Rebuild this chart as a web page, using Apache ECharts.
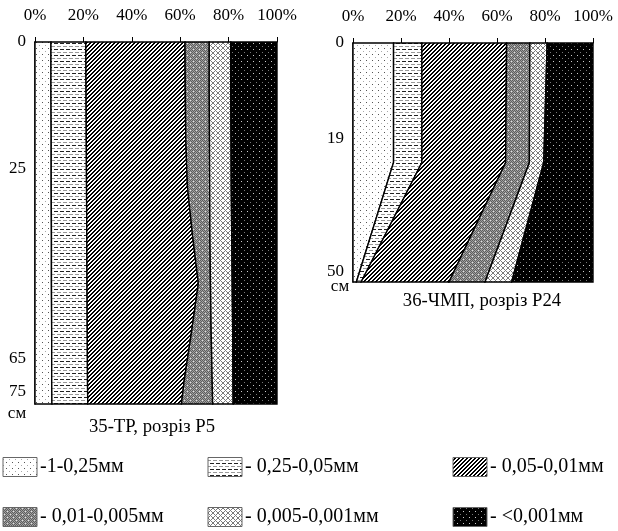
<!DOCTYPE html>
<html><head><meta charset="utf-8">
<script src="https://cdn.jsdelivr.net/npm/echarts@6/dist/echarts.min.js"></script>
<style>html,body{margin:0;padding:0;background:#fff}#c{width:618px;height:531px}</style>
</head><body><div id="c"></div>
<script>
// ---------- DATA ----------
const fractionNames = ['-1-0,25мм', '- 0,25-0,05мм', '- 0,05-0,01мм', '- 0,01-0,005мм', '- 0,005-0,001мм', '- <0,001мм'];
const percentTicks = [0, 20, 40, 60, 80, 100];

// Profile 35-ТР, P5 (percent of each fraction at depth, cm)
const p5Title = '35-ТР, розріз Р5';
const p5Depths = [0, 10, 20, 30, 40, 50, 60, 70, 75];
const p5DepthLabels = [0, 25, 65, 75];
const p5Frac1 = [6.6, 6.6, 6.7, 6.7, 6.8, 6.8, 6.9, 6.9, 7.0];
const p5Frac2 = [14.4, 14.5, 14.5, 14.6, 14.6, 14.7, 14.7, 14.8, 14.8];
const p5Frac3 = [41.0, 41.0, 41.1, 41.7, 43.7, 46.0, 43.1, 40.0, 38.7];
const p5Frac4 = [10.0, 9.9, 9.8, 9.2, 7.2, 5.0, 8.1, 11.5, 12.9];
const p5Frac5 = [8.9, 8.9, 8.9, 8.9, 9.0, 9.0, 8.9, 8.6, 8.5];
const p5Frac6 = [19.1, 19.1, 19.0, 18.9, 18.7, 18.5, 18.3, 18.2, 18.1];

// Profile 36-ЧМП, P24
const p24Title = '36-ЧМП, розріз Р24';
const p24Depths = [0, 25, 50];
const p24DepthLabels = [0, 19, 50];
const p24Frac1 = [16.9, 16.9, 1.4];
const p24Frac2 = [11.8, 11.8, 2.0];
const p24Frac3 = [35.3, 34.9, 36.6];
const p24Frac4 = [9.7, 9.9, 15.0];
const p24Frac5 = [7.2, 6.0, 11.1];
const p24Frac6 = [19.1, 20.5, 33.9];

const depthUnit = 'см';

// ---------- PATTERNS ----------
function makePattern(size, pix, bg) {
  const cv = document.createElement('canvas');
  cv.width = size; cv.height = size;
  const ctx = cv.getContext('2d');
  ctx.fillStyle = bg; ctx.fillRect(0, 0, size, size);
  for (let y = 0; y < size; y++) for (let x = 0; x < size; x++) {
    const c = pix(x, y);
    if (c) { ctx.fillStyle = c; ctx.fillRect(x, y, 1, 1); }
  }
  return { image: cv, repeat: 'repeat' };
}
const patterns = [
  makePattern(6, (x, y) => (x === 0 && y === 0) ? '#555' : (x === 3 && y === 3) ? '#aaa' : null, '#fff'),
  makePattern(6, (x, y) => (y === 1 && x < 4) ? '#222' : (y === 4 && (x >= 3 || x < 1)) ? '#999' : null, '#fff'),
  makePattern(4, (x, y) => ((x + y) % 4 < 2) ? '#000' : null, '#fff'),
  makePattern(6, (x, y) => (x === 1 && y === 1) || (x === 4 && y === 4) ? '#e0e0e0' : ((x + y) % 2 === 0 ? '#5e5e5e' : '#a0a0a0'), '#808080'),
  makePattern(5, (x, y) => ((x + y) % 5 === 0 || (x - y + 5) % 5 === 0) ? '#7a7a7a' : null, '#fff'),
  makePattern(6, (x, y) => (x === 1 && y === 1) ? '#ccc' : (x === 4 && y === 4) ? '#777' : null, '#000')
];

// ---------- BUILD ----------
function cumulate(fracs) {
  const out = [];
  let prev = fracs[0].map(() => 0);
  out.push(prev);
  fracs.forEach(f => { const cur = f.map((v, i) => prev[i] + v); out.push(cur); prev = cur; });
  return out;
}
const profiles = [
  { depths: p5Depths, fracs: [p5Frac1, p5Frac2, p5Frac3, p5Frac4, p5Frac5, p5Frac6] },
  { depths: p24Depths, fracs: [p24Frac1, p24Frac2, p24Frac3, p24Frac4, p24Frac5, p24Frac6] }
];
const series = [];
profiles.forEach((pr, gi) => {
  const cum = cumulate(pr.fracs);
  for (let k = 0; k < 6; k++) {
    const lower = cum[k], upper = cum[k + 1], depths = pr.depths;
    series.push({
      type: 'custom', name: fractionNames[k],
      xAxisIndex: gi, yAxisIndex: gi,
      data: [[0, 0]],
      encode: { x: 0, y: 1 },
      silent: true,
      renderItem: function (params, api) {
        const pts = [];
        for (let i = 0; i < depths.length; i++) pts.push(api.coord([lower[i], depths[i]]));
        for (let i = depths.length - 1; i >= 0; i--) pts.push(api.coord([upper[i], depths[i]]));
        return { type: 'polygon', shape: { points: pts }, style: { fill: patterns[k], stroke: '#000', lineWidth: 1.4 } };
      }
    });
  }
});

const FONT = 'Liberation Serif';
function xAxisCfg(gi) {
  return {
    gridIndex: gi, type: 'value', position: 'top', min: 0, max: 100, interval: 20,
    axisLine: { show: true, lineStyle: { color: '#000', width: 1 } },
    axisTick: { show: true, length: 5, lineStyle: { color: '#000' }, customValues: percentTicks },
    axisLabel: { formatter: '{value}%', fontFamily: FONT, fontSize: 17, color: '#000', margin: 18, customValues: percentTicks },
    splitLine: { show: false }
  };
}
// label nudges (style only): shift label up (negative) / down (positive) in px
function yAxisCfg(gi, max, labels, nudges) {
  const rich = {};
  labels.forEach((v, i) => {
    const n = nudges[i];
    rich['l' + i] = { fontFamily: FONT, fontSize: 17, color: '#000',
      padding: n >= 0 ? [2 * n, 0, 0, 0] : [0, 0, -2 * n, 0] };
  });
  return {
    gridIndex: gi, type: 'value', inverse: true, min: 0, max: max,
    axisLine: { show: true, lineStyle: { color: '#000', width: 1.5 } },
    axisTick: { show: false },
    axisLabel: { customValues: labels, fontFamily: FONT, fontSize: 17, color: '#000', margin: 9,
      formatter: function (v) { const i = labels.indexOf(v); return '{l' + i + '|' + v + '}'; },
      rich: rich },
    splitLine: { show: false }
  };
}

function txt(x, y, text, size, align) {
  return { type: 'text', x: x, y: y, silent: true,
    style: { text: text, font: size + 'px "' + FONT + '"', fill: '#000',
      align: align || 'center', textAlign: align || 'center', verticalAlign: 'middle', textVerticalAlign: 'middle' } };
}
const graphics = [
  txt(17, 414, depthUnit, 17), txt(340, 287, depthUnit, 17),
  txt(152, 427, p5Title, 18.7), txt(482, 301, p24Title, 18.7)
];
const legendPos = [[3, 467], [208, 467], [453, 467], [3, 517], [208, 517], [453, 517]];
fractionNames.forEach((n, k) => {
  const [lx, ly] = legendPos[k];
  graphics.push({ type: 'rect', silent: true, shape: { x: lx, y: ly - 9.5, width: 34, height: 19 },
    style: { fill: patterns[k], stroke: '#666', lineWidth: 1 } });
  graphics.push(txt(lx + 37, ly, n, 20, 'left'));
});

const chart = echarts.init(document.getElementById('c'), null, { renderer: 'canvas' });
chart.setOption({
  animation: false,
  backgroundColor: '#fff',
  grid: [
    { left: 35, top: 42, width: 242, height: 362 },
    { left: 353, top: 43, width: 240, height: 239 }
  ],
  xAxis: [xAxisCfg(0), xAxisCfg(1)],
  yAxis: [yAxisCfg(0, 75, p5DepthLabels, [0, 6, 3, -12]), yAxisCfg(1, 50, p24DepthLabels, [0, 5, -10])],
  series: series,
  graphic: graphics
});
</script></body></html>
